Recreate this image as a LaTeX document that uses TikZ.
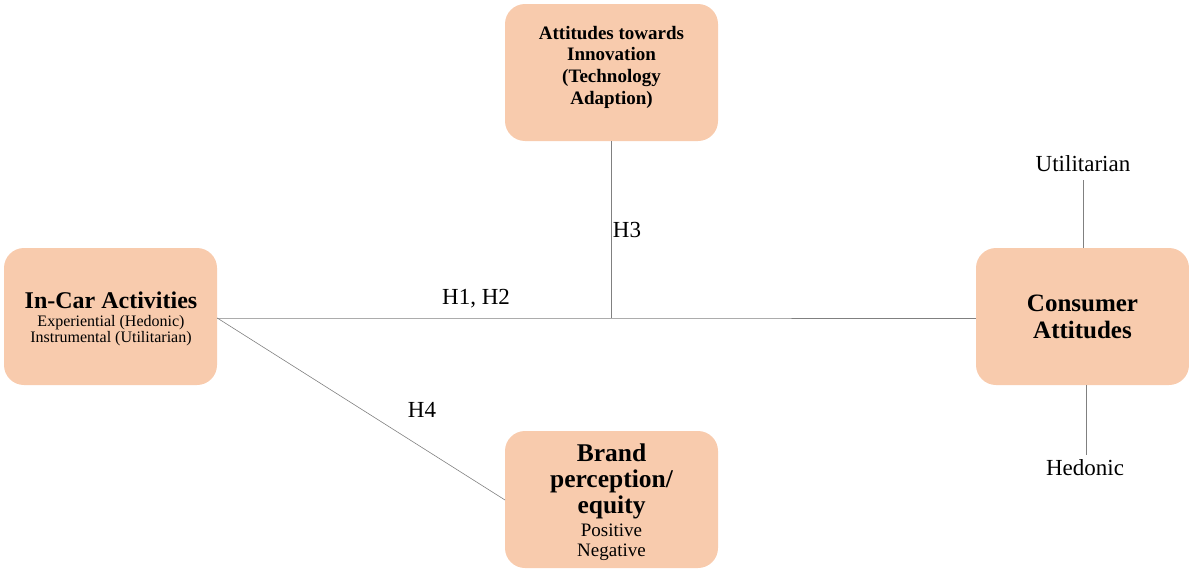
\documentclass[tikz,border=0pt]{standalone}
\usepackage{fontspec}
\setmainfont{Liberation Serif}
\begin{document}
\begin{tikzpicture}[x=1pt,y=-1pt,
  box/.style={draw=none,fill=boxfill,rounded corners=20pt,minimum width=213pt,minimum height=137pt,inner sep=0pt},
  conn/.style={draw=linegray,line width=0.9pt},
  lbl/.style={font=\fontsize{23}{24}\selectfont,text=black,inner sep=0pt},
  txt/.style={align=center,inner sep=0pt,text=black}]
\definecolor{boxfill}{HTML}{F8CBAD}
\definecolor{linegray}{HTML}{808080}
\useasboundingbox (0,0) rectangle (1189,570);
% boxes
\node[box] (incar) at (110.5,316.5) {};
\node[box] (innov) at (611.5,72.5) {};
\node[box] (brand) at (611.5,499.5) {};
\node[box] (cons) at (1082.5,316.5) {};
% texts
\node[txt,font=\bfseries\fontsize{24}{26}\selectfont] (incart) at (111,300) {In-Car Activities};
\node[txt,font=\fontsize{16}{16}\selectfont] (incars) at (111,331) {Experiential (Hedonic)\\Instrumental (Utilitarian)};
\node[txt,font=\bfseries\fontsize{19}{21.7}\selectfont] (innovt) at (611.5,67) {Attitudes towards\\Innovation\\(Technology\\Adaption)};
\node[txt,font=\bfseries\fontsize{25.5}{26}\selectfont] (brandt) at (611.5,481) {Brand\\perception/\\equity};
\node[txt,font=\fontsize{19}{20}\selectfont] (brands) at (611.5,542) {Positive\\Negative};
\node[txt,font=\bfseries\fontsize{25}{27}\selectfont] (const) at (1082.5,317) {Consumer\\Attitudes};
% junction and outer labels
\coordinate (jn) at (611,318);
\node[lbl] (util) at (1083,164) {Utilitarian};
\node[lbl] (hed) at (1085,468) {Hedonic};
% connectors
\draw[conn] (incar.east |- jn) -- (jn) -- (cons.west |- jn);
\draw[conn] (innov.south -| jn) -- (jn);
\coordinate (h4end) at (505,500);
\draw[conn,line width=0.6pt] (incar.east |- jn) -- (h4end);
\coordinate (ut) at (1083,180);
\draw[conn] (ut) -- (cons.north -| ut);
\coordinate (hb) at (1086,455);
\draw[conn] (cons.south -| hb) -- (hb);
% hypothesis labels
\node[lbl] (h12) at (476,299) {H1, H2};
\node[lbl] (h3) at (627,230) {H3};
\node[lbl] (h4) at (422,410) {H4};
\end{tikzpicture}
\end{document}
